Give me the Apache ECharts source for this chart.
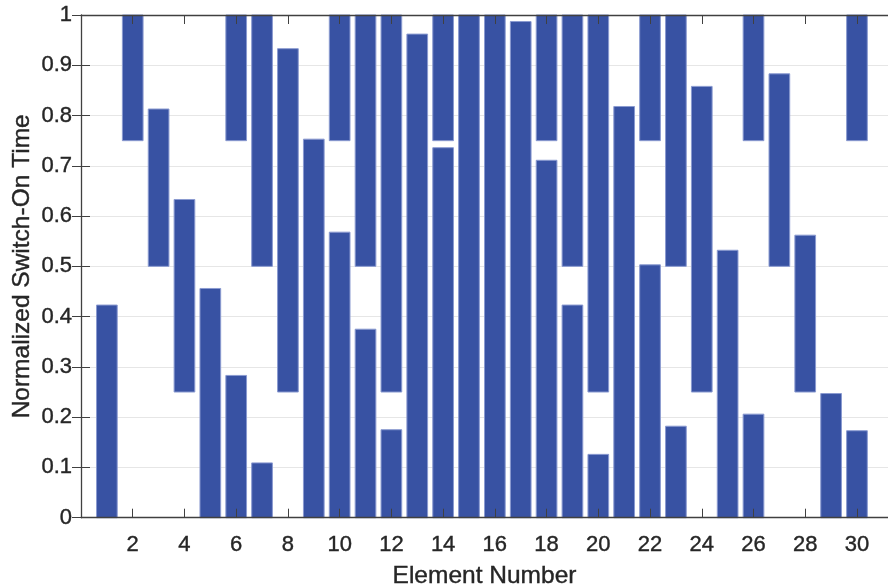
<!DOCTYPE html>
<html>
<head>
<meta charset="utf-8">
<title>Normalized Switch-On Time</title>
<script src="https://cdn.jsdelivr.net/npm/echarts@6/dist/echarts.min.js"></script>
<style>
  html, body { margin: 0; padding: 0; background: #ffffff; }
  #chart { width: 888px; height: 586px; }
</style>
</head>
<body>
<div id="chart"></div>
<script>
// Element indices along the array
const elements = [1, 2, 3, 4, 5, 6, 7, 8, 9, 10, 11, 12, 13, 14, 15,
                  16, 17, 18, 19, 20, 21, 22, 23, 24, 25, 26, 27, 28, 29, 30];

// Normalized time at which each element switches on
const switchOn = [0, 0.75, 0.5, 0.25, 0, 0.75, 0.5, 0.25, 0, 0.75,
                  0.5, 0.25, 0, 0.75, 0, 0, 0, 0.75, 0.5, 0.25,
                  0, 0.75, 0.5, 0.25, 0, 0.75, 0.5, 0.25, 0, 0.75];

// Normalized time at which each element switches off
// (an off time before the on time wraps around the period end)
const switchOff = [0.423, 1, 0.813, 0.633, 0.456, 0.283, 0.109, 0.933, 0.753, 0.568,
                   0.375, 0.175, 0.962, 0.736, 1, 1, 0.987, 0.711, 0.423, 0.126,
                   0.818, 0.503, 0.182, 0.858, 0.532, 0.206, 0.883, 0.562, 0.247, 0.173];

// Tick labels on the element axis
const xTickValues = [2, 4, 6, 8, 10, 12, 14, 16, 18, 20, 22, 24, 26, 28, 30];

// Split each on-interval into drawable [element, low, high] segments
const segments = [];
elements.forEach((el, i) => {
  const on = switchOn[i], off = switchOff[i];
  if (off >= on) {
    segments.push([el, on, off]);
  } else {
    segments.push([el, 0, off]);
    segments.push([el, on, 1]);
  }
});

const BAR_WIDTH = 0.8;
const AXIS_COLOR = '#404040';
const TEXT_COLOR = '#262626';
const FONT = '"Liberation Sans", Arial, Helvetica, sans-serif';

// Slightly heavier strokes on text, as in typical exported figure fonts
const labelStyle = {
  color: TEXT_COLOR, fontSize: 22, fontFamily: FONT,
  textBorderColor: TEXT_COLOR, textBorderWidth: 0.4
};
const nameStyle = {
  color: TEXT_COLOR, fontSize: 24.5, fontFamily: FONT,
  textBorderColor: TEXT_COLOR, textBorderWidth: 0.4
};

const chart = echarts.init(document.getElementById('chart'), null, { renderer: 'canvas' });

chart.setOption({
  animation: false,
  backgroundColor: '#ffffff',
  grid: { left: 81, right: 0, top: 15, bottom: 68.3, containLabel: false, outerBoundsMode: 'none' },
  xAxis: [
    {
      type: 'value',
      position: 'bottom',
      min: 0,
      max: 31.2,
      z: 5,
      name: 'Element Number',
      nameLocation: 'middle',
      nameGap: 46,
      nameTextStyle: nameStyle,
      axisLine: { show: true, onZero: false, lineStyle: { color: AXIS_COLOR, width: 1.3 } },
      axisTick: { show: true, inside: true, length: 9, customValues: xTickValues,
                  lineStyle: { color: AXIS_COLOR, width: 1 } },
      axisLabel: Object.assign({ show: true, customValues: xTickValues, margin: 16 }, labelStyle),
      splitLine: { show: false }
    },
    {
      type: 'value',
      position: 'top',
      min: 0,
      max: 31.2,
      z: 5,
      axisLine: { show: true, onZero: false, lineStyle: { color: AXIS_COLOR, width: 1.3 } },
      axisTick: { show: true, inside: true, length: 9, customValues: xTickValues,
                  lineStyle: { color: AXIS_COLOR, width: 1 } },
      axisLabel: { show: false },
      splitLine: { show: false }
    }
  ],
  yAxis: [
    {
      type: 'value',
      position: 'left',
      min: 0,
      max: 1,
      interval: 0.1,
      z: 0,
      name: 'Normalized Switch-On Time',
      nameLocation: 'middle',
      nameGap: 46,
      nameMoveOverlap: false,
      nameTextStyle: nameStyle,
      axisLine: { show: true, onZero: false, lineStyle: { color: AXIS_COLOR, width: 1.3 } },
      axisTick: { show: true, inside: true, length: 9, lineStyle: { color: AXIS_COLOR, width: 1 } },
      axisLabel: Object.assign({ show: true, margin: 9 }, labelStyle),
      splitLine: { show: true, lineStyle: { color: '#e6e6e6', width: 1 } }
    },
    {
      type: 'value',
      position: 'right',
      min: 0,
      max: 1,
      interval: 0.1,
      z: 5,
      axisLine: { show: false },
      axisTick: { show: true, inside: true, length: 9, lineStyle: { color: AXIS_COLOR, width: 1 } },
      axisLabel: { show: false },
      splitLine: { show: false }
    }
  ],
  series: [
    {
      type: 'custom',
      xAxisIndex: 0,
      yAxisIndex: 0,
      z: 2,
      encode: { x: 0, y: [1, 2] },
      data: segments,
      renderItem: function (params, api) {
        const x = api.value(0);
        const lo = api.value(1);
        const hi = api.value(2);
        const pTop = api.coord([x, hi]);
        const pBot = api.coord([x, lo]);
        const w = api.size([BAR_WIDTH, 0])[0];
        return {
          type: 'rect',
          shape: { x: pTop[0] - w / 2, y: pTop[1], width: w, height: pBot[1] - pTop[1] },
          style: { fill: '#3852a3', stroke: '#8a9ad0', lineWidth: 1 }
        };
      }
    }
  ]
});
</script>
</body>
</html>
